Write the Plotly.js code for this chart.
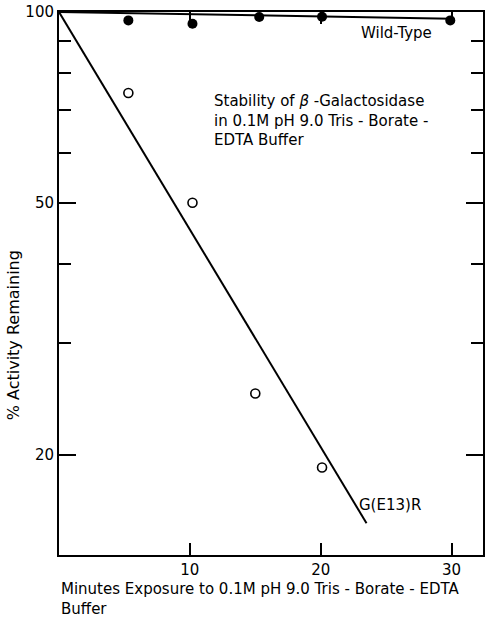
<!DOCTYPE html>
<html><head><meta charset="utf-8">
<script src="https://cdn.plot.ly/plotly-3.0.1.min.js"></script>
<style>body{margin:0;background:#fff}#c{width:492px;height:618px}</style>
</head><body><div id="c"></div>
<script>
const wtMinutes = [5.3, 10.2, 15.3, 20.1, 29.9];
const wtActivity = [97.0, 95.8, 98.2, 98.3, 97.0];
const wtFitMinutes = [0, 30];
const wtFitActivity = [100, 97.6];
const mutMinutes = [5.3, 10.2, 15, 20.1];
const mutActivity = [74.5, 50, 25, 19.1];
const mutFitMinutes = [0, 23.5];
const mutFitActivity = [100, 15.6];
const yMajorTicks = [20, 50, 100];
const yMajorLabels = ['20', '50', '100'];
const yMinorTicks = [30, 40, 60, 70, 80, 90];
const xTicks = [10, 20, 30];
const xLabels = ['10', '20', '30'];

const F = 'DejaVu Sans, sans-serif';
const traces = [
  {x: wtFitMinutes, y: wtFitActivity, mode: 'lines', line: {color: '#000', width: 2}},
  {x: wtMinutes, y: wtActivity, mode: 'markers', marker: {color: '#000', size: 10, symbol: 'circle'}},
  {x: mutFitMinutes, y: mutFitActivity, mode: 'lines', line: {color: '#000', width: 2}},
  {x: mutMinutes, y: mutActivity, mode: 'markers', marker: {color: '#000', size: 9, symbol: 'circle-open', line: {color: '#000', width: 1.6}}}
];
const layout = {
  width: 492, height: 618,
  margin: {l: 59, r: 9, t: 12, b: 63},
  paper_bgcolor: '#fff', plot_bgcolor: '#fff',
  showlegend: false,
  font: {family: F, color: '#000', size: 14},
  xaxis: {
    range: [0, 32.4], showgrid: false, zeroline: false,
    showline: true, linecolor: '#000', linewidth: 2, mirror: 'ticks',
    ticks: 'inside', ticklen: 12, tickwidth: 2, tickcolor: '#000',
    tickvals: xTicks, ticktext: xLabels,
    tickfont: {family: F, size: 15, color: '#000'}
  },
  yaxis: {
    type: 'log', range: [Math.log10(13.9), 2], showgrid: false, zeroline: false,
    showline: true, linecolor: '#000', linewidth: 2, mirror: 'ticks',
    ticks: 'inside', ticklen: 17, tickwidth: 2, tickcolor: '#000',
    tickvals: yMajorTicks, ticktext: yMajorLabels,
    tickfont: {family: F, size: 15, color: '#000'},
    minor: {tickvals: yMinorTicks, ticks: 'inside', ticklen: 12, tickwidth: 2, tickcolor: '#000', showgrid: false}
  },
  annotations: [
    {text: 'Wild-Type', xref: 'paper', yref: 'paper', x: 0.885, y: 0.961, xanchor: 'right', yanchor: 'middle', showarrow: false, font: {family: F, size: 15, color: '#000'}},
    {text: 'Stability of <i>β</i> -Galactosidase<br>in 0.1M pH 9.0 Tris - Borate -<br>EDTA Buffer', align: 'left', xref: 'paper', yref: 'paper', x: 0.362, y: 0.857, xanchor: 'left', yanchor: 'top', showarrow: false, font: {family: F, size: 15, color: '#000'}},
    {text: 'G(E13)R', xref: 'paper', yref: 'paper', x: 0.703, y: 0.092, xanchor: 'left', yanchor: 'middle', showarrow: false, font: {family: F, size: 15, color: '#000'}},
    {text: '% Activity Remaining', xref: 'paper', yref: 'paper', x: -0.108, xanchor: 'center', y: 0.405, yanchor: 'middle', textangle: -90, showarrow: false, font: {family: F, size: 16, color: '#000'}},
    {text: 'Minutes Exposure to 0.1M pH 9.0 Tris - Borate - EDTA<br>Buffer', align: 'left', xref: 'paper', yref: 'paper', x: 0.0, y: -0.043, xanchor: 'left', yanchor: 'top', showarrow: false, font: {family: F, size: 15, color: '#000'}}
  ]
};
Plotly.newPlot('c', traces, layout, {displayModeBar: false, staticPlot: true});
</script></body></html>
